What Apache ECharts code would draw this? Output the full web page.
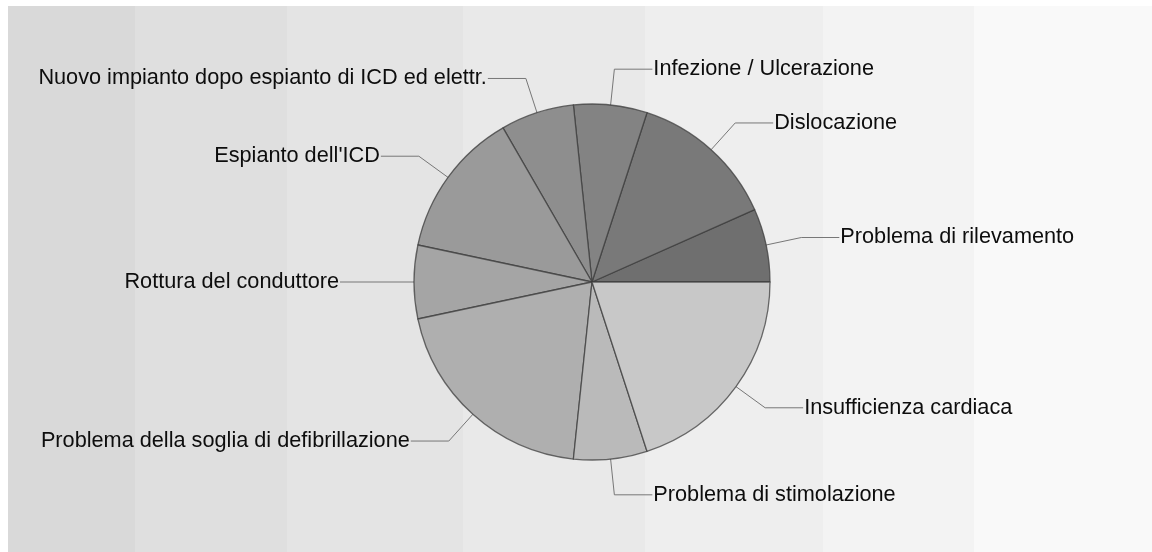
<!DOCTYPE html>
<html>
<head>
<meta charset="utf-8">
<script src="https://cdn.jsdelivr.net/npm/echarts@6/dist/echarts.min.js"></script>
<style>
  html, body { margin: 0; padding: 0; background: #fff; }
  #chart { width: 1152px; height: 552px; }
</style>
</head>
<body>
<div id="chart"></div>
<script>
// dati (in senso antiorario da ore 3)
var categories = [
  'Problema di rilevamento',
  'Dislocazione',
  'Infezione / Ulcerazione',
  'Nuovo impianto dopo espianto di ICD ed elettr.',
  "Espianto dell'ICD",
  'Rottura del conduttore',
  'Problema della soglia di defibrillazione',
  'Problema di stimolazione',
  'Insufficienza cardiaca'
]
var values = [1, 2, 1, 1, 2, 1, 3, 1, 3]
var sliceColors = ['#6f6f6f', '#797979', '#838383', '#8e8e8e', '#9a9a9a', '#a5a5a5', '#afafaf', '#bababa', '#c8c8c8']

// strisce di sfondo
var stripeEdges = [8, 135, 287, 463, 645, 823, 974, 1152]
var stripeColors = ['#d9d9d9', '#dfdfdf', '#e4e4e4', '#e9e9e9', '#eeeeee', '#f3f3f3', '#f9f9f9']

var bg = []
for (var i = 0; i < stripeColors.length; i++) {
  bg.push({
    type: 'rect',
    silent: true,
    z: -10,
    shape: { x: stripeEdges[i], y: 6, width: stripeEdges[i + 1] - stripeEdges[i], height: 546 },
    style: { fill: stripeColors[i] }
  })
}

var pieData = categories.map(function(c, i) {
  return { name: c, value: values[i], itemStyle: { color: sliceColors[i] } }
})

var myChart = echarts.init(document.getElementById('chart'))
var option = {
  animation: false,
  graphic: bg,
  series: [
    {
      type: 'pie',
      center: [592, 282],
      radius: 178,
      startAngle: 0,
      clockwise: false,
      avoidLabelOverlap: false,
      data: pieData,
      itemStyle: {
        borderColor: 'rgba(60,60,60,0.75)',
        borderWidth: 1.3
      },
      label: {
        show: true,
        position: 'outside',
        color: '#0d0d0d',
        fontFamily: 'Liberation Sans, Arial, sans-serif',
        fontSize: 21.7,
        distanceToLabelLine: 1
      },
      labelLine: {
        show: true,
        length: 36,
        length2: 38,
        lineStyle: { color: '#777', width: 1 }
      },
      emphasis: { disabled: true }
    }
  ]
}
myChart.setOption(option)
window.addEventListener('resize', function() {
  myChart.resize()
})
</script>
</body>
</html>
